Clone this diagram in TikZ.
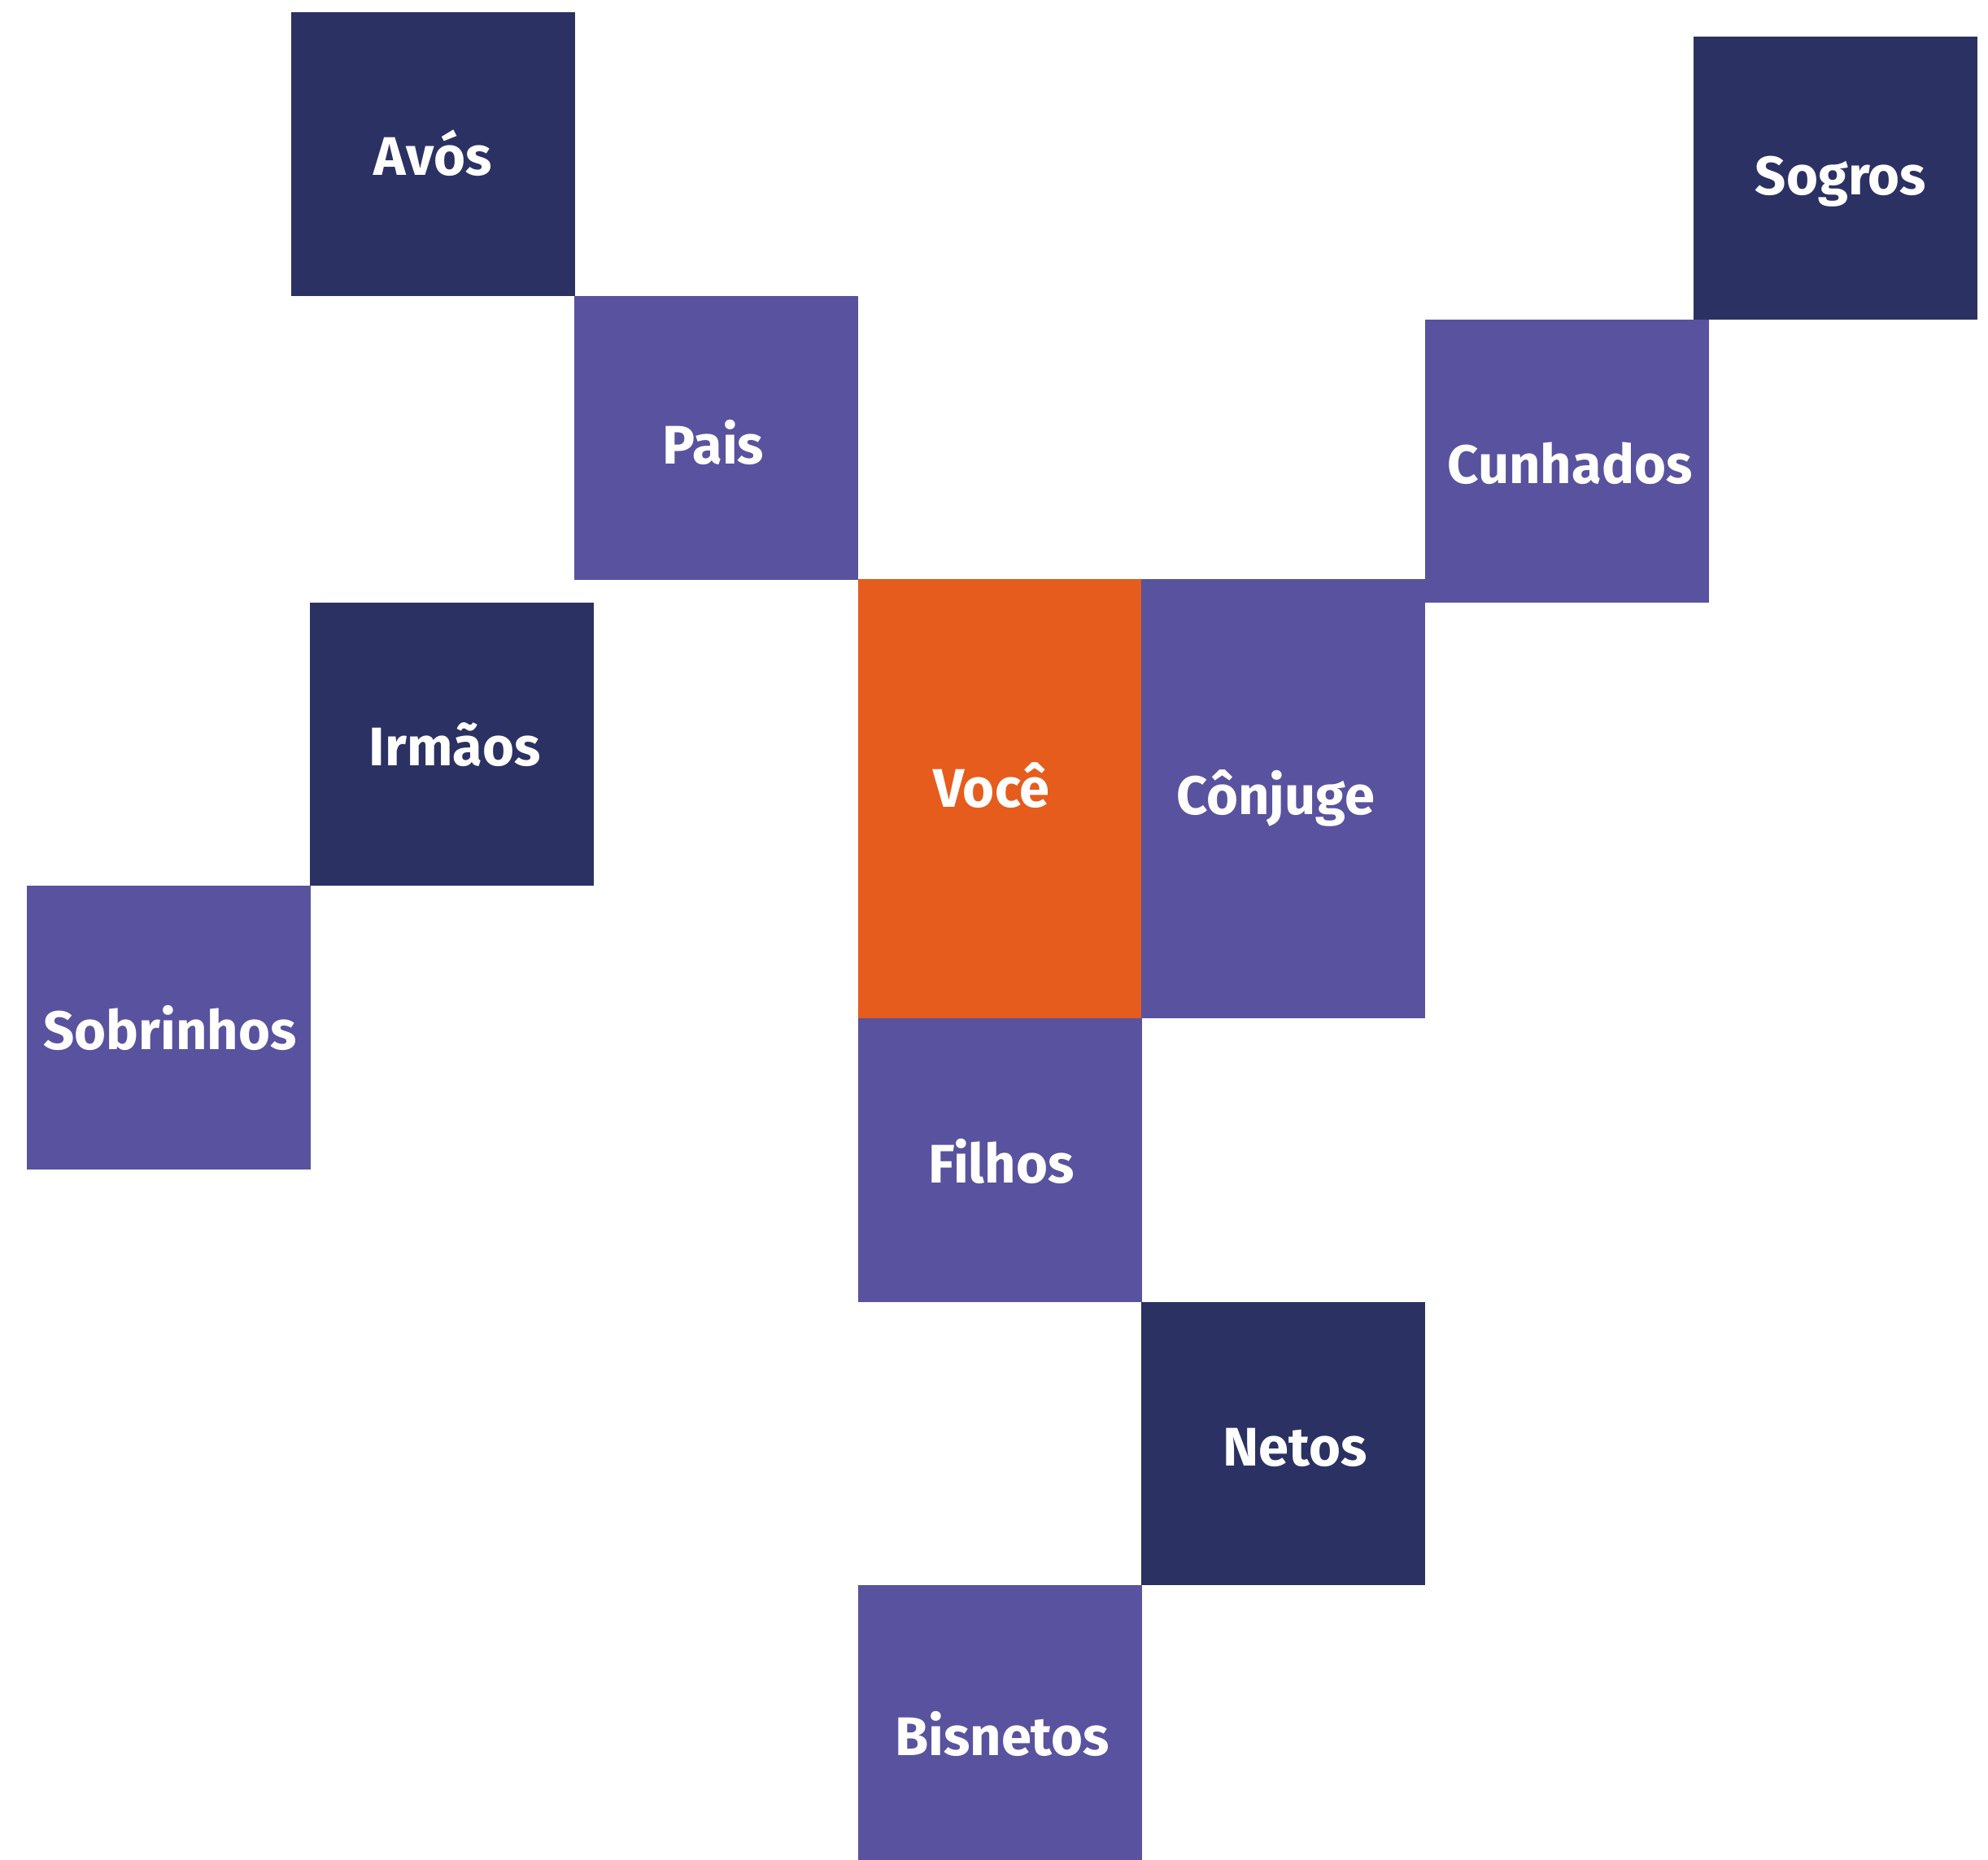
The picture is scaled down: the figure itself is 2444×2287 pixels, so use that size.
\documentclass[tikz,border=0pt]{standalone}
\usepackage{fontspec}
\setmainfont{Fira Sans}
\definecolor{navy}{RGB}{43,49,99}
\definecolor{lilac}{RGB}{89,82,158}
\definecolor{flame}{RGB}{230,92,28}
\begin{document}
\begin{tikzpicture}[x=0.01cm,y=-0.01cm,
  tile/.style={draw=none,fill=#1,rectangle,anchor=north west,inner sep=0pt,outer sep=0pt},
  lbl/.style={anchor=base,text=white,inner sep=0pt,font=\fontsize{19pt}{22pt}\selectfont\bfseries}]
\useasboundingbox (0,0) rectangle (2444,2287);
% tiles
\node[tile=navy,minimum width=3.49cm,minimum height=3.49cm] (avos) at (358,15) {};
\node[tile=lilac,minimum width=3.49cm,minimum height=3.49cm] (pais) at (706,364) {};
\node[tile=flame,minimum width=3.48cm,minimum height=5.40cm] (voce) at (1055,712) {};
\node[tile=lilac,minimum width=3.49cm,minimum height=5.40cm] (conjuge) at (1403,712) {};
\node[tile=lilac,minimum width=3.49cm,minimum height=3.48cm] (cunhados) at (1752,393) {};
\node[tile=navy,minimum width=3.49cm,minimum height=3.48cm] (sogros) at (2082,45) {};
\node[tile=navy,minimum width=3.49cm,minimum height=3.48cm] (irmaos) at (381,741) {};
\node[tile=lilac,minimum width=3.49cm,minimum height=3.49cm] (sobrinhos) at (33,1089) {};
\node[tile=lilac,minimum width=3.49cm,minimum height=3.49cm] (filhos) at (1055,1252) {};
\node[tile=navy,minimum width=3.49cm,minimum height=3.48cm] (netos) at (1403,1601) {};
\node[tile=lilac,minimum width=3.49cm,minimum height=3.38cm] (bisnetos) at (1055,1949) {};
% labels
\node[lbl] (tavos) at (532,215) {Avós};
\node[lbl] (tpais) at (877,570) {Pais};
\node[lbl] (tvoce) at (1219,992) {Você};
\node[lbl] (tconjuge) at (1568,1001) {Cônjuge};
\node[lbl] (tsogros) at (2263,239) {Sogros};
\node[lbl] (tcunhados) at (1930,594) {Cunhados};
\node[lbl] (tirmaos) at (559,941) {Irmãos};
\node[lbl] (tsobrinhos) at (209,1290) {Sobrinhos};
\node[lbl] (tfilhos) at (1231,1454) {Filhos};
\node[lbl] (tnetos) at (1592,1802) {Netos};
\node[lbl] (tbisnetos) at (1232,2158) {Bisnetos};
\end{tikzpicture}
\end{document}
